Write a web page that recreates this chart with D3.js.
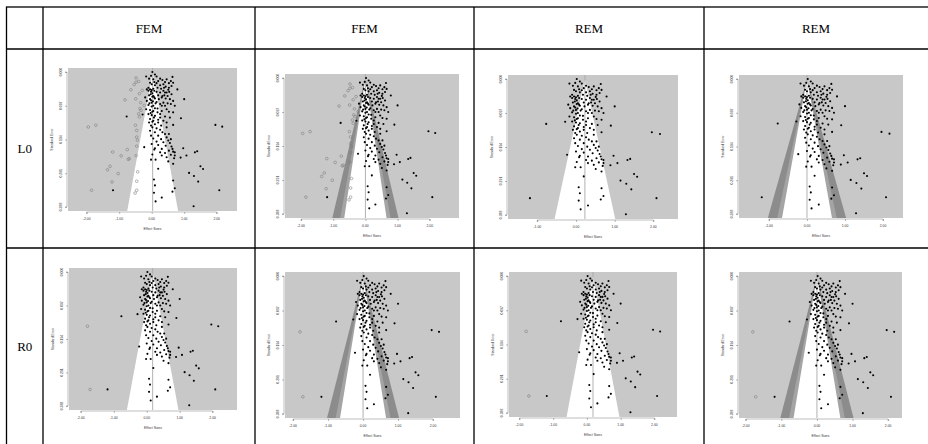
<!DOCTYPE html>
<html><head><meta charset="utf-8">
<script src="https://cdn.jsdelivr.net/npm/d3@7"></script>
<style>body{margin:0;background:#fff}svg{display:block}</style>
</head><body>
<svg id="c" width="928" height="444"></svg>
<script>
// ---------------- data ----------------
const columnHeaders = ["FEM", "FEM", "REM", "REM"];
const rowLabels = ["L0", "R0"];
const seTicks = [0, 0.097, 0.194, 0.291, 0.388];
const seTickLabels = ["0.000", "0.097", "0.194", "0.291", "0.388"];
const effectTicks = [-2, -1, 0, 1, 2];
const effectTickLabels = ["-2.00", "-1.00", "0.00", "1.00", "2.00"];
const yAxisTitle = "Standard Error";
const xAxisTitle = "Effect Sizes";

// observed studies (effect size, standard error)
const obsEffect = [
 0.02,0.10,-0.02,-0.17,-0.08,0.05,0.15,0.20,0.26,0.33,0.41,0.46,0.59,0.64,0.66,-0.05,0.00,0.10,-0.10,0.26,0.36,0.43,0.53,0.79,0.18,-0.15,0.05,
 -0.10,-0.02,0.02,0.15,0.26,0.36,0.46,0.51,0.61,-0.08,0.05,0.20,0.31,0.39,0.43,0.56,-0.05,0.10,1.00,-0.15,0.00,0.15,0.26,0.36,0.49,0.59,0.71,-0.10,0.05,0.66,-0.20,0.41,
 -0.17,-0.05,0.05,0.18,0.31,0.46,0.53,0.66,-0.28,-0.77,-0.10,0.00,0.10,0.26,0.41,0.56,0.90,-0.05,0.05,0.20,0.36,0.46,-0.08,0.10,0.66,0.29,-0.02,
 0.02,0.15,0.26,-0.05,0.10,0.33,0.41,0.20,-0.02,0.46,0.05,0.29,0.51,0.15,0.36,0.56,0.00,0.20,0.43,0.61,-0.23,0.10,0.31,0.53,0.66,1.96,2.17,0.97,
 0.08,0.26,0.41,0.59,0.02,0.71,0.31,0.46,0.89,-0.02,0.12,1.07,1.33,1.40,0.51,0.66,1.50,1.58,1.15,1.30,0.20,
 0.07,0.66,1.43,0.10,0.71,0.07,0.64,0.31,0.12,-1.19,2.08,1.29,
 -0.05,0.00,0.08,-0.03,0.02,0.08,-0.02,0.04,0.12,-0.07,0.00,0.10,0.02,-0.03,0.07,0.02,0.18,0.31,0.22,0.33,0.41,0.49,0.54,0.29,0.38,0.15,0.08,0.53,0.61,0.20,0.26,0.46,0.53,0.59,0.64,0.71,0.69
];
const obsSE = [
 0.000,0.007,0.011,0.013,0.019,0.021,0.013,0.026,0.019,0.023,0.029,0.021,0.026,0.014,0.031,0.031,0.035,0.038,0.045,0.038,0.035,0.042,0.045,0.050,0.045,0.050,0.048,
 0.054,0.057,0.061,0.057,0.059,0.054,0.059,0.051,0.064,0.067,0.069,0.067,0.073,0.067,0.076,0.078,0.078,0.076,0.078,0.083,0.088,0.086,0.092,0.088,0.090,0.092,0.097,0.095,0.097,0.083,0.073,0.097,
 0.107,0.109,0.112,0.105,0.112,0.107,0.114,0.116,0.122,0.128,0.121,0.124,0.126,0.121,0.128,0.131,0.133,0.135,0.140,0.137,0.140,0.145,0.145,0.150,0.152,0.154,0.154,
 0.159,0.162,0.166,0.169,0.173,0.173,0.178,0.183,0.183,0.188,0.191,0.193,0.197,0.200,0.202,0.204,0.207,0.210,0.212,0.214,0.216,0.219,0.221,0.226,0.229,0.152,0.157,0.219,
 0.223,0.231,0.233,0.238,0.237,0.240,0.240,0.245,0.246,0.252,0.252,0.240,0.231,0.228,0.257,0.264,0.271,0.279,0.290,0.299,0.278,
 0.309,0.312,0.315,0.326,0.334,0.347,0.344,0.361,0.372,0.340,0.340,0.386,
 0.050,0.052,0.054,0.064,0.071,0.073,0.081,0.084,0.090,0.090,0.099,0.104,0.114,0.118,0.131,0.143,0.116,0.097,0.078,0.069,0.059,0.069,0.057,0.048,0.045,0.032,0.029,0.032,0.040,0.145,0.131,0.159,0.178,0.193,0.221,0.231,0.248
];

// studies imputed by trim-and-fill, L0 estimator under FEM
const impL0Effect = [-1.95,-1.72,-1.85,-1.20,-0.94,-1.28,-1.36,-1.03,-1.22,-0.75,-0.69,-0.72,-0.48,-0.46,-0.44,-0.46,-0.43,-0.46,-0.46,-0.51,-0.50,-0.40,-0.36,-0.49,-0.82,-0.64,-0.54,-0.48,-0.48,-0.40,-0.38,-0.29,-0.34,-0.23,-0.38,-0.33,-0.46];
const impL0SE = [0.158,0.153,0.340,0.230,0.241,0.271,0.281,0.292,0.316,0.223,0.249,0.251,0.240,0.213,0.196,0.187,0.287,0.314,0.340,0.348,0.153,0.120,0.105,0.077,0.080,0.051,0.036,0.017,0.029,0.027,0.062,0.053,0.088,0.096,0.129,0.110,0.168];
// studies imputed by trim-and-fill, R0 estimator
const impR0Effect = [-1.80, -1.72];
const impR0SE = [0.157, 0.340];

// funnel centres (pooled estimates; contour-enhanced panels are centred on 0)
const funnelCenters = [[0.03, 0.00, 0.23, 0.00], [0.18, 0.00, 0.18, 0.00]];
const contourPanel = [false, true, false, true];
const imputedSet = [["L0", "L0", null, null], ["R0", "R0", "R0", "R0"]];

// ---------------- layout ----------------
const table = {x0: 6.5, x1: 940, y0: 7, y1: 446, colX: [43, 255, 474, 704], rowY: [49, 248]};
const panelRects = [
 [{x0:68,x1:237,y0:68,y1:211,xmin:-2.575,xmax:2.625},{x0:285,x1:459,y0:74,y1:218,xmin:-2.5,xmax:2.91},{x0:508,x1:678,y0:75,y1:219,xmin:-1.757,xmax:2.636},{x0:739,x1:903,y0:75,y1:218,xmin:-1.789,xmax:2.526}],
 [{x0:69,x1:237,y0:268,y1:410,xmin:-2.36,xmax:2.74},{x0:285,x1:460,y0:272,y1:418,xmin:-2.23,xmax:2.77},{x0:509,x1:677,y0:272,y1:417,xmin:-2.31,xmax:2.67},{x0:739,x1:902,y0:272,y1:418,xmin:-2.19,xmax:2.39}]
];
const sePad = 0.0116;

const svg = d3.select("#c");
const defs = svg.append("defs");

function drawPanel(r, c) {
  const L = panelRects[r][c];
  const g = svg.append("g");
  const x = d3.scaleLinear().domain([L.xmin, L.xmax]).range([L.x0, L.x1]);
  const seMax = seTicks[seTicks.length - 1] + sePad;
  const y = d3.scaleLinear().domain([-sePad, seMax]).range([L.y0, L.y1]);
  const id = "clip" + r + c;
  defs.append("clipPath").attr("id", id).append("rect")
    .attr("x", L.x0).attr("y", L.y0).attr("width", L.x1 - L.x0).attr("height", L.y1 - L.y0);
  const pg = g.append("g").attr("clip-path", `url(#${id})`);
  pg.append("rect").attr("x", L.x0).attr("y", L.y0).attr("width", L.x1 - L.x0).attr("height", L.y1 - L.y0)
    .attr("fill", "#c8c8c8");
  const ctr = funnelCenters[r][c];
  const tri = z => [[x(ctr - z * seMax), y(seMax)], [x(ctr), y(0)], [x(ctr + z * seMax), y(seMax)]];
  const line = d3.line();
  if (contourPanel[c]) {
    pg.append("path").attr("d", line(tri(2.576)) + "Z").attr("fill", "#8c8c8c");
    pg.append("path").attr("d", line(tri(1.96)) + "Z").attr("fill", "#a4a4a4");
    pg.append("path").attr("d", line(tri(1.645)) + "Z").attr("fill", "#ffffff");
  } else {
    pg.append("path").attr("d", line(tri(1.96)) + "Z").attr("fill", "#ffffff");
  }
  pg.append("line").attr("x1", x(ctr)).attr("x2", x(ctr)).attr("y1", L.y0).attr("y2", L.y1)
    .attr("stroke", "#a9a9a9").attr("stroke-width", 0.9);

  const set = imputedSet[r][c];
  if (set) {
    const ie = set === "L0" ? impL0Effect : impR0Effect;
    const is = set === "L0" ? impL0SE : impR0SE;
    pg.selectAll(null).data(d3.range(ie.length)).join("circle")
      .attr("cx", i => x(ie[i])).attr("cy", i => y(is[i])).attr("r", 1.35)
      .attr("fill", "none").attr("stroke", "#7a7a7a").attr("stroke-width", 0.55);
  }
  pg.selectAll(null).data(d3.range(obsEffect.length)).join("circle")
    .attr("cx", i => x(obsEffect[i])).attr("cy", i => y(obsSE[i])).attr("r", 1.05)
    .attr("fill", "#000");

  // axes
  const fs = 3.4;
  const ya = g.append("g").attr("transform", `translate(${L.x0 - 1},0)`);
  ya.call(d3.axisLeft(y).tickValues(seTicks).tickFormat((d, i) => "").tickSize(2));
  ya.select(".domain").attr("stroke", "#555").attr("stroke-width", 0.4).attr("d", `M-2,${y(0)}H0V${y(seTicks[4])}H-2`);
  ya.selectAll(".tick line").attr("stroke", "#555").attr("stroke-width", 0.4);
  seTicks.forEach((t, i) => {
    g.append("text").attr("transform", `translate(${L.x0 - 6},${y(t)}) rotate(-90)`)
      .attr("text-anchor", "middle").attr("font-family", "Liberation Sans, Arial, sans-serif")
      .attr("font-size", fs).attr("fill", "#333").text(seTickLabels[i]);
  });
  g.append("text").attr("transform", `translate(${L.x0 - 15},${(L.y0 + L.y1) / 2}) rotate(-90)`)
    .attr("text-anchor", "middle").attr("font-family", "Liberation Sans, Arial, sans-serif")
    .attr("font-size", fs).attr("fill", "#333").text(yAxisTitle);

  const xt = effectTicks.filter(t => t >= L.xmin && t <= L.xmax);
  const xa = g.append("g").attr("transform", `translate(0,${L.y1 + 1})`);
  xa.call(d3.axisBottom(x).tickValues(xt).tickFormat(() => "").tickSize(2));
  xa.select(".domain").attr("stroke", "#555").attr("stroke-width", 0.4)
    .attr("d", `M${x(xt[0])},2V0H${x(xt[xt.length - 1])}V2`);
  xa.selectAll(".tick line").attr("stroke", "#555").attr("stroke-width", 0.4);
  xt.forEach(t => {
    g.append("text").attr("x", x(t)).attr("y", L.y1 + 9)
      .attr("text-anchor", "middle").attr("font-family", "Liberation Sans, Arial, sans-serif")
      .attr("font-size", fs).attr("fill", "#333").text(effectTickLabels[effectTicks.indexOf(t)]);
  });
  g.append("text").attr("x", (L.x0 + L.x1) / 2).attr("y", L.y1 + 18.5)
    .attr("text-anchor", "middle").attr("font-family", "Liberation Sans, Arial, sans-serif")
    .attr("font-size", fs).attr("fill", "#333").text(xAxisTitle);
}

for (let r = 0; r < 2; r++) for (let c = 0; c < 4; c++) drawPanel(r, c);

// ---------------- table grid ----------------
const grid = svg.append("g").attr("stroke", "#000").attr("stroke-width", 1.3).attr("fill", "none");
grid.append("rect").attr("x", table.x0).attr("y", table.y0).attr("width", table.x1 - table.x0).attr("height", table.y1 - table.y0);
table.colX.forEach(cx => grid.append("line").attr("x1", cx).attr("x2", cx).attr("y1", table.y0).attr("y2", table.y1));
table.rowY.forEach(ry => grid.append("line").attr("x1", table.x0).attr("x2", table.x1).attr("y1", ry).attr("y2", ry));

const colEdges = table.colX.concat([928]);
columnHeaders.forEach((h, i) => {
  svg.append("text").attr("x", (colEdges[i] + colEdges[i + 1]) / 2).attr("y", 32.5)
    .attr("text-anchor", "middle").attr("font-family", "Liberation Serif, Times New Roman, serif")
    .attr("font-size", 13).attr("fill", "#000").text(h);
});
const rowEdges = [table.rowY[0], table.rowY[1], 444];
rowLabels.forEach((l, i) => {
  svg.append("text").attr("x", (table.x0 + table.colX[0]) / 2).attr("y", (rowEdges[i] + rowEdges[i + 1]) / 2 + 4.5)
    .attr("text-anchor", "middle").attr("font-family", "Liberation Serif, Times New Roman, serif")
    .attr("font-size", 13).attr("fill", "#000").text(l);
});
</script>
</body></html>
